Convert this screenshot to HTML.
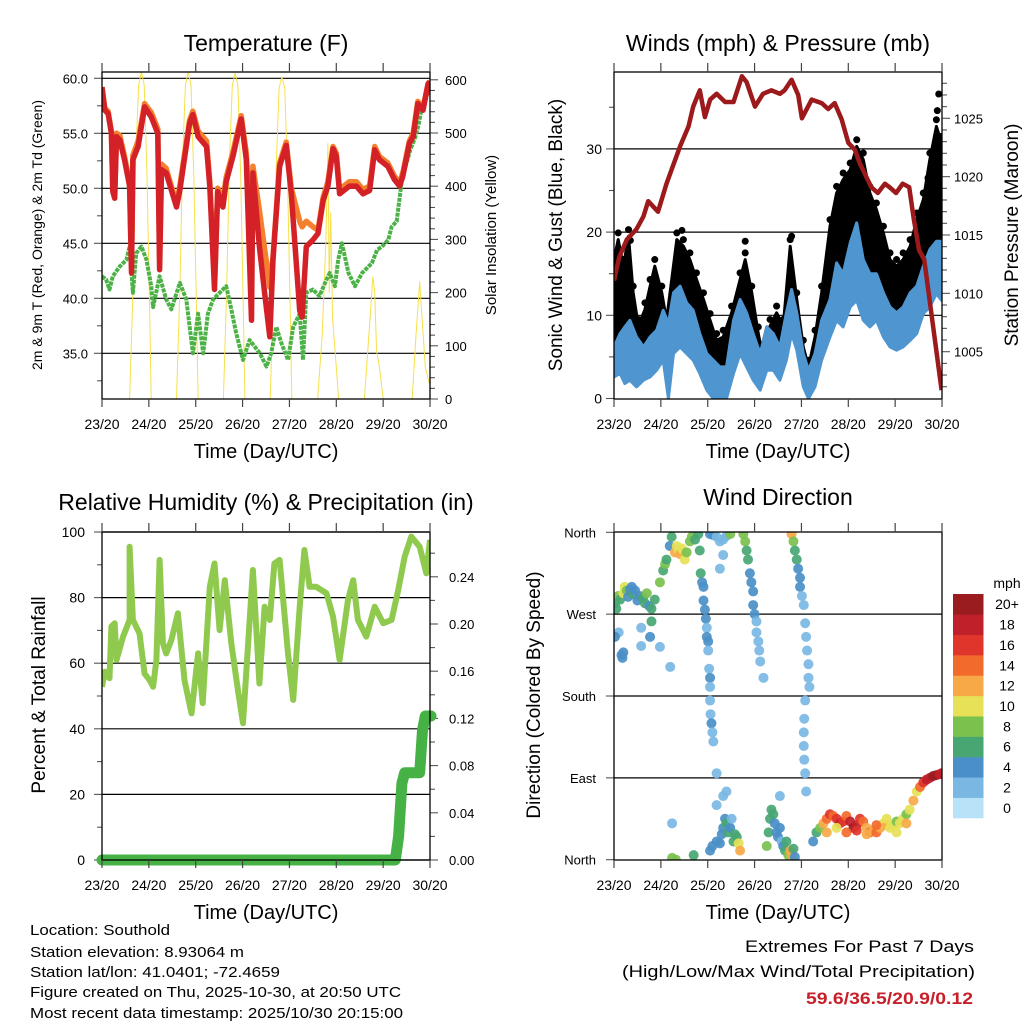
<!DOCTYPE html>
<html><head><meta charset="utf-8"><style>
html,body{margin:0;padding:0;background:#fff;}
svg{display:block;font-family:"Liberation Sans",sans-serif;}
</style></head><body>
<svg id="chart" width="1024" height="1024" viewBox="0 0 1024 1024" xmlns="http://www.w3.org/2000/svg">
<defs>
<clipPath id="c1"><rect x="102" y="72" width="328" height="327"/></clipPath>
<clipPath id="c2"><rect x="614" y="72" width="328" height="327"/></clipPath>
<clipPath id="c3"><rect x="102" y="532" width="328" height="328"/></clipPath>
<clipPath id="c4"><rect x="614" y="532" width="328" height="328"/></clipPath>
</defs>
<rect width="1024" height="1024" fill="#fff"/>
<g id="p1"></g>
<g id="p2"></g>
<g id="p3"></g>
<g id="p4"></g>
<g font-size="15" fill="#000">
<text x="30" y="935" textLength="140" lengthAdjust="spacingAndGlyphs">Location: Southold</text>
<text x="30" y="957" textLength="214" lengthAdjust="spacingAndGlyphs">Station elevation: 8.93064 m</text>
<text x="30" y="977" textLength="250" lengthAdjust="spacingAndGlyphs">Station lat/lon: 41.0401; -72.4659</text>
<text x="30" y="997" textLength="371" lengthAdjust="spacingAndGlyphs">Figure created on Thu, 2025-10-30, at 20:50 UTC</text>
<text x="30" y="1018" textLength="373" lengthAdjust="spacingAndGlyphs">Most recent data timestamp: 2025/10/30 20:15:00</text>
</g>
<g font-size="17" text-anchor="end">
<text x="974" y="952" textLength="229" lengthAdjust="spacingAndGlyphs">Extremes For Past 7 Days</text>
<text x="975" y="977" textLength="353" lengthAdjust="spacingAndGlyphs">(High/Low/Max Wind/Total Precipitation)</text>
<text x="973" y="1004" font-weight="bold" fill="#c8202a" textLength="167" lengthAdjust="spacingAndGlyphs">59.6/36.5/20.9/0.12</text>
</g>
</svg>
<script>
// ---------- data ----------
const dayLabels = ["23/20","24/20","25/20","26/20","27/20","28/20","29/20","30/20"];
const tempT = [0,0.06,0.13,0.20,0.23,0.27,0.31,0.38,0.48,0.59,0.63,0.66,0.77,0.91,1.05,1.19,1.23,1.27,1.37,1.59,1.66,1.87,1.94,2.05,2.23,2.30,2.40,2.47,2.58,2.65,2.80,2.97,3.08,3.19,3.22,3.36,3.47,3.58,3.65,3.79,3.93,4.04,4.22,4.27,4.36,4.50,4.61,4.72,4.82,4.93,5.00,5.07,5.28,5.43,5.57,5.71,5.82,5.92,6.10,6.24,6.35,6.42,6.56,6.64,6.74,6.85,6.96,7.0];
const temp2m = [59.2,57.1,56.8,55.0,49.7,49.1,54.7,54.4,52.6,50.2,42.3,52.6,53.8,57.4,56.5,55.0,42.6,51.7,51.4,48.3,49.8,55.9,56.7,54.7,53.8,50.2,40.8,49.7,48.3,50.6,53.0,56.3,52.6,38.0,51.4,44.7,40.5,36.5,43.5,52.0,53.9,49.5,38.9,38.3,44.7,45.3,45.9,48.9,50.2,53.6,52.9,49.5,50.2,50.2,49.5,49.8,53.5,52.6,52.0,50.8,50.2,51.1,54.1,54.7,57.7,57.1,59.5,59.7];
const temp9m = [59.2,57.3,57.0,55.2,50.0,49.5,55.0,54.8,52.9,50.5,43.0,53.0,54.3,57.7,56.9,55.4,43.5,52.2,51.8,48.6,50.2,56.2,57.0,55.2,54.3,50.6,41.5,50.0,48.8,51.0,53.4,56.6,53.2,45.0,52.0,48.0,44.5,41.0,43.8,52.3,54.2,50.0,47.0,46.5,47.0,46.5,46.2,49.2,50.6,53.8,53.2,49.9,50.6,50.6,49.9,50.2,53.8,52.9,52.3,51.1,50.5,51.4,54.3,55.0,57.9,57.3,59.5,59.7];
const dewT = [0,0.09,0.16,0.23,0.38,0.52,0.59,0.66,0.73,0.84,0.95,1.05,1.09,1.23,1.37,1.48,1.66,1.80,1.94,2.05,2.16,2.26,2.37,2.51,2.65,2.76,2.86,3.01,3.15,3.37,3.51,3.61,3.72,3.83,3.97,4.08,4.22,4.29,4.36,4.50,4.64,4.79,4.86,4.97,5.04,5.12,5.26,5.40,5.55,5.76,5.87,5.97,6.11,6.18,6.29,6.40,6.58,6.69,6.76,6.84,7.0];
const dewPt = [42.0,41.7,40.8,42.0,42.9,43.5,44.7,40.5,44.1,44.7,43.5,41.1,39.2,42.0,39.9,39.0,41.4,39.9,35.0,38.6,35.0,38.6,39.9,40.5,41.1,39.0,36.9,34.4,36.2,35.0,33.8,35.0,37.4,35.9,34.4,37.4,38.6,34.4,40.5,40.8,40.2,41.7,42.3,41.1,43.5,45.0,42.3,41.1,42.3,43.2,44.4,44.7,45.3,46.5,47.0,50.8,53.5,54.7,55.9,57.7,59.0];
const solarT = [0.59,0.66,0.72,0.78,0.84,0.90,0.96,1.02,1.05, 1.59,1.66,1.72,1.78,1.84,1.90,1.96,2.02,2.05, 2.59,2.66,2.72,2.78,2.84,2.90,2.96,3.02,3.05, 3.59,3.66,3.72,3.78,3.84,3.90,3.96,4.02,4.05, 4.60,4.70,4.78,4.82,4.85,4.88,4.92,5.00,5.05, 5.60,5.72,5.78,5.82,5.86,5.92,6.00, 6.62,6.70,6.78,6.84,6.90,6.98,7.0];
const solarV = [0,200,450,590,615,590,420,150,0, 0,200,450,590,615,590,420,150,0, 0,200,450,590,612,590,420,150,0, 0,200,440,585,605,585,410,150,0, 0,120,300,480,200,350,150,60,0, 0,150,230,200,90,60,0, 0,120,220,140,60,30,40];
const windT = [0,0.13,0.23,0.34,0.48,0.63,0.77,0.91,1.05,1.16,1.27,1.41,1.55,1.69,1.83,1.98,2.12,2.26,2.40,2.55,2.69,2.83,2.97,3.12,3.26,3.40,3.54,3.68,3.79,3.90,4.04,4.15,4.29,4.43,4.61,4.75,4.89,5.04,5.18,5.32,5.46,5.60,5.75,5.89,6.03,6.17,6.32,6.46,6.60,6.74,6.88,6.99];
const windLow = [2.6,3.0,1.8,2.2,1.4,2.2,2.6,3.4,4.6,0,5.4,6.2,5.4,4.6,3.0,1.0,0,0,0,3.0,5.4,3.8,2.2,1.0,3.4,3.4,2.2,4.6,7.8,5.8,1.4,0,1.4,4.6,7.4,9.4,8.6,11.0,11.8,9.4,8.6,9.4,7.4,6.2,5.8,6.2,7.0,7.8,10.2,11.0,12.6,11.8];
const windHigh = [6.2,7.8,8.6,9.4,7.4,6.2,7.4,8.2,10.6,9.0,12.7,13.5,11.5,10.6,7.8,5.4,4.6,3.8,3.8,9.4,11.9,10.3,7.8,5.4,8.6,7.8,6.2,10.3,13.1,10.3,5.4,3.4,5.4,9.4,11.9,16.3,15.0,18.7,21.1,16.7,15.0,15.0,12.7,11.0,10.3,11.0,12.7,13.5,15.9,17.9,18.9,18.9];
const gustT = [0,0.09,0.20,0.31,0.41,0.52,0.66,0.77,0.87,1.02,1.12,1.34,1.48,1.62,1.76,1.91,2.05,2.19,2.33,2.51,2.69,2.80,2.94,3.08,3.19,3.33,3.47,3.61,3.76,3.90,4.04,4.15,4.29,4.43,4.61,4.75,4.89,5.04,5.18,5.32,5.46,5.60,5.75,5.89,6.03,6.17,6.32,6.46,6.60,6.74,6.88,6.99];
const gustSpd = [16.7,19.1,15.9,19.5,12.7,8.7,10.7,13.5,15.9,12.7,9.4,19.1,18.3,16.7,14.3,11.9,9.4,7.0,7.4,10.3,14.3,16.7,12.7,7.8,4.6,8.7,10.3,8.7,18.3,11.9,6.2,3.8,7.4,12.7,20.7,24.7,26.3,27.5,30.3,28.7,24.7,22.7,19.9,16.7,15.9,16.7,18.3,21.5,23.9,28.7,32.7,30.7];
const gustOutT = [6.93,6.90,6.97,2.80,1.45,3.79,5.20,5.00,6.70,0.35];
const gustOutV = [36.6,34.6,30.8,18.9,20.2,19.5,26.5,25.6,26.5,19.0];
const presT = [0,0.11,0.27,0.48,0.63,0.73,0.94,1.12,1.23,1.41,1.59,1.69,1.83,1.94,2.05,2.19,2.37,2.55,2.73,2.83,3.01,3.18,3.36,3.54,3.64,3.79,3.93,4.01,4.22,4.43,4.57,4.71,4.86,5.00,5.14,5.25,5.49,5.63,5.78,5.88,6.02,6.16,6.30,6.40,6.51,6.62,6.99];
const presMb = [1011.1,1013.1,1014.6,1015.5,1016.6,1017.9,1017.0,1019.4,1020.6,1022.6,1024.3,1026.0,1027.4,1025.1,1026.6,1027.1,1026.4,1026.4,1028.6,1028.1,1026.0,1027.1,1027.4,1027.1,1027.4,1028.3,1027.0,1025.0,1026.6,1026.3,1025.8,1026.3,1024.9,1022.9,1022.3,1021.1,1019.1,1018.6,1019.4,1019.1,1018.6,1019.4,1019.1,1016.3,1013.7,1012.9,1001.7];
const rhT = [0,0.06,0.16,0.20,0.27,0.31,0.45,0.59,0.59,0.66,0.80,0.91,1.02,1.09,1.16,1.23,1.30,1.37,1.48,1.62,1.76,1.91,2.05,2.15,2.30,2.40,2.51,2.62,2.76,2.91,3.01,3.22,3.36,3.47,3.58,3.68,3.79,3.97,4.08,4.22,4.32,4.43,4.57,4.79,4.93,5.07,5.25,5.36,5.46,5.64,5.82,6.00,6.18,6.32,6.46,6.60,6.78,6.92,7.0];
const rhPct = [52.8,57.4,55.4,71.2,72.2,61.0,68.1,73.2,95.5,73.2,69.1,56.8,54.8,52.8,60.9,91.5,66.1,63.0,67.1,75.2,54.8,44.7,63.0,47.8,83.3,90.4,70.1,85.3,66.1,50.8,41.7,88.4,53.8,77.2,73.2,90.4,91.5,63.0,48.8,77.2,94.5,83.3,83.3,81.3,74.2,61.0,79.3,85.3,73.2,68.1,77.2,72.2,73.2,82.3,92.5,98.6,95.5,87.4,97.6];
const rainT = [0,6.26,6.33,6.40,6.46,6.78,6.84,6.90,7.02];
const rainIn = [0,0,0.02,0.065,0.074,0.074,0.11,0.122,0.122];
const dirT = [
 0.02,0.05,0.09,0.13,0.20,0.23,0.27,0.30,0.34,0.38,0.41,0.45,0.50,0.55,0.62,0.66,0.70,0.75,0.80,0.87,
 0.16,0.18,0.20,0.10,0.02,0.58,0.58,0.77,0.80,0.98,1.20,
 0.98,1.05,1.09,1.12,1.19,1.23,1.30,1.34,1.38,1.41,1.45,1.51,1.55,1.62,1.66,1.73,1.80,
 1.83,1.85,1.88,1.91,1.91,1.94,1.96,1.98,1.98,2.01,2.01,2.03,2.05,2.05,2.05,2.06,2.08,2.10,2.12,2.19,
 2.05,2.12,2.19,2.26,2.33,2.40,2.48,2.26,2.33,
 2.76,2.80,2.83,2.86,2.90,2.93,2.97,2.97,3.00,3.04,3.04,3.08,3.10,3.12,3.19,
 3.79,3.83,3.86,3.90,3.93,3.97,3.97,4.01,4.05,4.08,4.10,4.12,4.15,4.15,4.17,4.08,4.06,4.05,4.05,4.06,4.08,4.10,
 1.24,1.32,1.70,2.05,2.10,2.19,2.26,2.30,2.33,2.37,2.40,2.44,2.48,2.51,2.55,2.58,2.62,2.66,2.69,2.19,2.33,2.40,1.24,
 3.26,3.30,3.33,3.36,3.40,3.43,3.47,3.50,3.54,3.58,3.61,3.65,3.68,3.72,3.76,3.79,3.83,3.86,3.54,
 4.25,4.32,4.40,4.47,4.54,4.61,4.68,4.75,4.82,4.89,4.96,5.04,5.11,5.18,5.25,5.32,5.39,5.46,5.53,5.60,5.68,5.75,5.82,5.89,5.96,6.03,6.10,6.17,6.24,6.31,6.39,6.46,6.53,6.60,6.67,6.74,6.81,6.88,6.95,6.99,
 4.54,4.75,4.96,5.18,5.39,5.60,5.82,6.03,6.24];
const dirDeg = [
 282,276,290,286,293,300,296,289,297,300,292,296,285,290,288,282,293,279,276,286,
 225,222,228,250,245,255,235,245,262,234,212,
 305,318,325,330,345,355,338,345,340,336,342,330,338,350,355,352,358,
 340,315,305,300,285,275,265,255,245,240,230,210,200,190,175,160,150,140,130,95,
 358,357,355,350,352,356,358,320,335,
 358,350,340,330,315,305,295,280,270,262,250,240,230,218,200,
 358,350,340,330,320,310,300,290,280,260,245,230,215,200,190,175,155,140,125,110,95,75,
 2,0,5,10,15,20,18,28,35,45,40,30,35,45,20,28,25,18,10,60,70,75,40,
 15,30,45,55,50,40,30,25,35,20,15,10,20,5,10,5,12,3,70,
 20,30,35,40,45,50,48,45,40,42,48,42,35,38,45,42,35,30,32,30,35,40,38,35,38,42,40,45,50,55,65,75,80,85,88,90,92,93,94,95,
 30,35,30,32,28,38,45,30,40];
const dirSpd = [
 6,6,8,6,10,10,8,4,4,4,6,4,4,4,6,6,8,4,6,6,
 4,4,4,2,4,2,2,4,6,2,2,
 8,6,8,6,4,6,12,10,10,12,10,10,8,8,8,6,6,
 6,6,4,4,4,4,4,2,4,4,2,2,4,2,2,2,4,2,2,2,
 4,4,2,2,2,2,8,2,2,
 8,8,6,6,4,4,4,4,4,2,2,2,2,2,2,
 12,8,6,6,4,4,4,2,2,2,2,2,2,2,2,2,2,2,2,2,2,2,
 8,8,6,4,4,4,4,4,4,4,6,6,4,2,6,6,6,10,12,2,2,2,2,
 8,6,6,6,6,4,4,4,4,2,4,6,6,8,12,12,6,4,2,
 4,6,8,12,14,16,14,16,18,16,14,18,20,18,16,14,12,14,12,14,12,10,12,10,10,8,10,10,8,10,12,10,14,16,18,18,20,20,18,18,
 12,10,14,16,12,14,10,10,12];
const rhTicks = [0,20,40,60,80,100];
const rainTicks = [0,0.04,0.08,0.12,0.16,0.20,0.24];
const tempTicks = [35,40,45,50,55,60];
const solarTicks = [0,100,200,300,400,500,600];
const windTicks = [0,10,20,30];
const presTicks = [1005,1010,1015,1020,1025];
const dirNames = ["North","East","South","West","North"];
const dirTicks = [0,90,180,270,360];
const cbLabels = ["0","2","4","6","8","10","12","14","16","18","20+"];
const cbColors = ["#b8e2f7","#7ab7e3","#4a8fc7","#48a673","#7ac14e","#e6e156","#f7a948","#f26a2c","#e0352b","#c0202a","#9b1c1f"];

// ---------- scales ----------
const PX_DAY = 46.86;
const xL = t => 102 + t * PX_DAY;
const xR = t => 614 + t * PX_DAY;
const yTemp = v => 78.3 + (60 - v) * 11;
const ySolar = v => 399 - v * 0.532;
const yWind = v => 398.5 - v * 8.32;
const yPres = v => 118.3 + (1025 - v) * 11.67;
const yRH = v => 860 - v * 3.28;
const yRain = v => 860 - v * 1180;
const yDir = v => 859.7 - v * 0.9094;

const NS = "http://www.w3.org/2000/svg";
function mk(tag, attrs, parent) {
  const e = document.createElementNS(NS, tag);
  for (const k in attrs) e.setAttribute(k, attrs[k]);
  if (parent) parent.appendChild(e);
  return e;
}
function txt(parent, x, y, s, size, anchor, rot) {
  const e = mk("text", {x: x, y: y, "font-size": size, "text-anchor": anchor || "middle", fill: "#000"}, parent);
  if (rot) e.setAttribute("transform", "rotate(" + rot + " " + x + " " + y + ")");
  e.textContent = s;
  return e;
}
function pts(xs, ys, fx, fy) {
  return xs.map((t, i) => fx(t).toFixed(1) + " " + fy(ys[i]).toFixed(1));
}
function pathD(xs, ys, fx, fy) {
  return "M" + pts(xs, ys, fx, fy).join(" L");
}
function bandD(xs, lo, xs2, hi, fx, fy) {
  const a = pts(xs2, hi, fx, fy);
  const b = pts(xs, lo, fx, fy).reverse();
  return "M" + a.concat(b).join(" L") + " Z";
}
function xAxis(g, fx, top, bot) {
  for (let d = 0; d <= 7; d++) {
    const x = fx(d);
    const tk = mk("line", {x1: x, x2: x, y1: top - 9, y2: top, stroke: "#444", "stroke-width": 1.2}, g);
    
    
    const tb = mk("line", {x1: x, x2: x, y1: bot, y2: bot + 8, stroke: "#444", "stroke-width": 1.2}, g);
    
    
    const lb = txt(g, x, bot + 30, dayLabels[d], 14);
    
    
  }
  const tt = txt(g, (fx(0) + fx(7)) / 2, bot + 59, "Time (Day/UTC)", 20);
  
  
}
function frame(g, x0, y0, x1, y1) {
  const r = mk("rect", {x: x0, y: y0, width: x1 - x0, height: y1 - y0, fill: "none", stroke: "#000", "stroke-width": 1.3}, g);
  
  
}
function gridLine(g, x0, x1, y) {
  const l = mk("line", {x1: x0, x2: x1, y1: y, y2: y, stroke: "#000", "stroke-width": 1.2}, g);
  
  
}
function tick(g, x, y, len) {
  const l = mk("line", {x1: x, x2: x + len, y1: y, y2: y, stroke: "#555", "stroke-width": 1.1}, g);
  
  
}

// ---------- Panel 1: temperature ----------
(function () {
  const g = document.getElementById("p1");
  const title = txt(g, 266, 51, "Temperature (F)", 23);
  
  
  tempTicks.forEach(v => {
    gridLine(g, 102, 430, yTemp(v));
    tick(g, 94, yTemp(v), 8);
    const l = txt(g, 88, yTemp(v) + 5, v.toFixed(1), 13, "end");
    
    
  });
  for (let v = 32.5; v < 61; v += 5) tick(g, 97, yTemp(v), 5);
  solarTicks.forEach(v => {
    tick(g, 430, ySolar(v), 8);
    const l = txt(g, 445, ySolar(v) + 5, String(v), 13, "start");
    
    
  });
  for (let v = 20; v < 615; v += 20) if (v % 100) tick(g, 430, ySolar(v), 5);
  const c = mk("g", {"clip-path": "url(#c1)"}, g);
  const sol = mk("path", {d: pathD(solarT, solarV, xL, ySolar), fill: "none", stroke: "#f6e04a", "stroke-width": 1, "stroke-linejoin": "round"}, c);
  
  
  const dew = mk("path", {d: pathD(dewT, dewPt, xL, yTemp), fill: "none", stroke: "#4cb147", "stroke-width": 4, "stroke-dasharray": "4 1", "stroke-linejoin": "round"}, c);
  
  
  const t9 = mk("path", {d: pathD(tempT, temp9m, xL, yTemp), fill: "none", stroke: "#f47f2c", "stroke-width": 5.5, "stroke-linejoin": "round"}, c);
  
  
  const t2 = mk("path", {d: pathD(tempT, temp2m, xL, yTemp), fill: "none", stroke: "#d42127", "stroke-width": 5.5, "stroke-linejoin": "round"}, c);
  
  
  frame(g, 102, 72, 430, 399);
  xAxis(g, xL, 72, 399);
  const yl = txt(g, 42, 235, "2m & 9m T (Red, Orange) & 2m Td (Green)", 14, "middle", -90);
  
  
  const yr = txt(g, 496, 235, "Solar Insolation (Yellow)", 15, "middle", -90);
  
  
})();

// ---------- Panel 2: winds & pressure ----------
(function () {
  const g = document.getElementById("p2");
  const title = txt(g, 778, 51, "Winds (mph) & Pressure (mb)", 23);
  
  
  windTicks.forEach(v => {
    if (v > 0) gridLine(g, 614, 942, yWind(v));
    tick(g, 606, yWind(v), 8);
    const l = txt(g, 602, yWind(v) + 5, String(v), 14, "end");
    
    
  });
  for (let v = 5; v < 40; v += 10) tick(g, 609, yWind(v), 5);
  presTicks.forEach(v => {
    tick(g, 942, yPres(v), 8);
    const l = txt(g, 954, yPres(v) + 5, String(v), 13, "start");
    
    
  });
  for (let v = 1002; v <= 1028; v++) if (v % 5) tick(g, 942, yPres(v), 5);
  const c = mk("g", {"clip-path": "url(#c2)"}, g);
  const gb = mk("path", {d: bandD(windT, windHigh, gustT, gustSpd, xR, yWind), fill: "#000", stroke: "#000", "stroke-width": 3, "stroke-linejoin": "round"}, c);
  
  
  gustT.forEach((t, i) => {
    const d = mk("circle", {cx: xR(t), cy: yWind(gustSpd[i] + 0.8), r: 3.5, fill: "#000"}, c);
    
    
  });
  gustOutT.forEach((t, i) => {
    const d = mk("circle", {cx: xR(t), cy: yWind(gustOutV[i]), r: 3.5, fill: "#000"}, c);
    
    
  });
  const wb = mk("path", {d: bandD(windT, windLow, windT, windHigh, xR, yWind), fill: "#4f96d0", stroke: "#4f96d0", "stroke-width": 3, "stroke-linejoin": "round"}, c);
  
  
  const pl = mk("path", {d: pathD(presT, presMb, xR, yPres), fill: "none", stroke: "#9c1a1c", "stroke-width": 4.5, "stroke-linejoin": "round"}, c);
  
  
  frame(g, 614, 72, 942, 399);
  xAxis(g, xR, 72, 399);
  const yl = txt(g, 562, 235, "Sonic Wind & Gust (Blue, Black)", 19, "middle", -90);
  
  
  const yr = txt(g, 1018, 235, "Station Pressure (Maroon)", 19, "middle", -90);
  
  
})();

// ---------- Panel 3: RH & precip ----------
(function () {
  const g = document.getElementById("p3");
  const title = txt(g, 266, 510, "Relative Humidity (%) & Precipitation (in)", 23);
  
  
  rhTicks.forEach(v => {
    gridLine(g, 102, 430, yRH(v));
    tick(g, 94, yRH(v), 8);
    const l = txt(g, 85, yRH(v) + 5, String(v), 14, "end");
    
    
  });
  for (let v = 10; v < 100; v += 20) tick(g, 97, yRH(v), 5);
  rainTicks.forEach(v => {
    tick(g, 430, yRain(v), 8);
    const l = txt(g, 449, yRain(v) + 5, v.toFixed(2), 13, "start");
    
    
  });
  for (let v = 0.02; v < 0.27; v += 0.04) tick(g, 430, yRain(v), 5);
  const c = mk("g", {"clip-path": "url(#c3)"}, g);
  const rh = mk("path", {d: pathD(rhT, rhPct, xL, yRH), fill: "none", stroke: "#8fca4e", "stroke-width": 6, "stroke-linejoin": "round"}, c);
  
  
  const c2 = mk("g", {}, g);
  const rn = mk("path", {d: pathD(rainT, rainIn, xL, yRain), fill: "none", stroke: "#46b246", "stroke-width": 11, "stroke-linejoin": "round", "stroke-linecap": "round"}, c2);
  
  
  frame(g, 102, 532, 430, 860);
  xAxis(g, xL, 532, 860);
  const yl = txt(g, 45, 695, "Percent & Total Rainfall", 19, "middle", -90);
  
  
})();

// ---------- Panel 4: wind direction ----------
(function () {
  const g = document.getElementById("p4");
  const title = txt(g, 778, 505, "Wind Direction", 23);
  
  
  dirTicks.forEach((v, i) => {
    if (v > 0 && v < 360) gridLine(g, 614, 942, yDir(v));
    tick(g, 606, yDir(v), 8);
    const l = txt(g, 596, yDir(v) + 5, dirNames[i], 13, "end");
    
    
  });
  const c = mk("g", {"clip-path": "url(#c4)"}, g);
  dirT.forEach((t, i) => {
    const idx = Math.min(10, Math.round(dirSpd[i] / 2));
    const d = mk("circle", {cx: xR(t), cy: yDir(Math.min(dirDeg[i], 360)), r: 5, fill: cbColors[idx], "fill-opacity": 0.92}, c);
    
    
  });
  frame(g, 614, 532, 942, 860);
  xAxis(g, xR, 532, 860);
  const yl = txt(g, 540, 695, "Direction (Colored By Speed)", 19, "middle", -90);
  
  
  const cb = mk("g", {}, g);
  
  
  const segH = (818 - 594) / cbColors.length;
  cbColors.forEach((col, i) => {
    const y = 818 - (i + 1) * segH;
    const r = mk("rect", {x: 953, y: y, width: 30.5, height: segH + 0.3, fill: col}, cb);
    
    
    const l = txt(cb, 1007, y + segH / 2 + 5, cbLabels[i], 14);
    
    
  });
  const u = txt(cb, 1007, 588, "mph", 14);
  
  
})();
</script>
</body></html>
